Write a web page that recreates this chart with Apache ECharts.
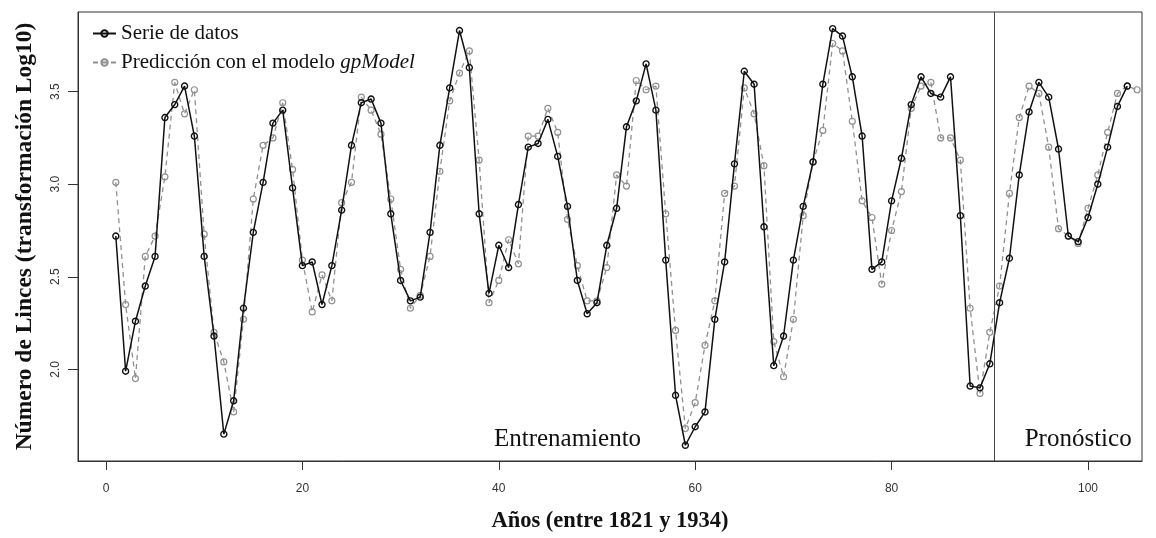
<!DOCTYPE html>
<html>
<head>
<meta charset="utf-8">
<script src="https://cdn.jsdelivr.net/npm/echarts@6/dist/echarts.min.js"></script>
<style>
  html, body { margin: 0; padding: 0; background: #fff; }
  #chart { width: 1156px; height: 538px; }
</style>
</head>
<body>
<div id="chart"></div>
<script>
// Log10 of yearly lynx trappings, 1821-1934 (observed series, t = 1..104)
const observed = [
  2.72, 1.99, 2.26, 2.45, 2.61, 3.36, 3.43, 3.53, 3.26, 2.61,
  2.18, 1.65, 1.83, 2.33, 2.74, 3.01, 3.33, 3.40, 2.98, 2.56,
  2.58, 2.35, 2.56, 2.86, 3.21, 3.44, 3.46, 3.33, 2.84, 2.48,
  2.37, 2.39, 2.74, 3.21, 3.52, 3.83, 3.63, 2.84, 2.41, 2.67,
  2.55, 2.89, 3.20, 3.22, 3.35, 3.15, 2.88, 2.48, 2.30, 2.36,
  2.67, 2.87, 3.31, 3.45, 3.65, 3.40, 2.59, 1.86, 1.59, 1.69,
  1.77, 2.27, 2.58, 3.11, 3.61, 3.54, 2.77, 2.02, 2.18, 2.59,
  2.88, 3.12, 3.54, 3.84, 3.80, 3.58, 3.26, 2.54, 2.58, 2.91,
  3.14, 3.43, 3.58, 3.49, 3.47, 3.58, 2.83, 1.91, 1.90, 2.03,
  2.36, 2.60, 3.05, 3.39, 3.55, 3.47, 3.19, 2.72, 2.69, 2.82,
  3.00, 3.20, 3.42, 3.53
];

// gpModel one-step predictions (t = 1..105)
const predicted = [
  3.01, 2.35, 1.95, 2.61, 2.72, 3.04, 3.55, 3.38, 3.51, 2.73,
  2.20, 2.04, 1.77, 2.27, 2.92, 3.21, 3.25, 3.44, 3.08, 2.59,
  2.31, 2.51, 2.37, 2.90, 3.01, 3.47, 3.40, 3.27, 2.92, 2.54,
  2.33, 2.40, 2.61, 3.07, 3.45, 3.60, 3.72, 3.13, 2.36, 2.48,
  2.70, 2.57, 3.26, 3.26, 3.41, 3.28, 2.81, 2.56, 2.37, 2.37,
  2.55, 3.05, 2.99, 3.56, 3.51, 3.53, 2.84, 2.21, 1.68, 1.82,
  2.13, 2.37, 2.95, 2.99, 3.52, 3.38, 3.10, 2.15, 1.96, 2.27,
  2.83, 3.12, 3.29, 3.76, 3.72, 3.34, 2.91, 2.82, 2.46, 2.75,
  2.96, 3.41, 3.53, 3.55, 3.25, 3.25, 3.13, 2.33, 1.87, 2.20,
  2.45, 2.95, 3.36, 3.53, 3.49, 3.20, 2.76, 2.72, 2.68, 2.87,
  3.05, 3.28, 3.49, 3.53, 3.51
];

const xTicks = [0, 20, 40, 60, 80, 100];
const yTicks = [2.0, 2.5, 3.0, 3.5];
const splitPoint = 90.5;           // end of training window
const regionLabels = [
  { text: 'Entrenamiento', x: 47.0, y: 1.62 },
  { text: 'Pronóstico', x: 99.0, y: 1.62 }
];

const serieName = 'Serie de datos';
const predName = 'Predicción con el modelo gpModel';

const obsData = observed.map((v, i) => [i + 1, v]);
const predData = predicted.map((v, i) => [i + 1, v]);

const chart = echarts.init(document.getElementById('chart'), null, { renderer: 'canvas' });

const serif = 'Liberation Serif, Times New Roman, serif';
const tickFont = { fontFamily: 'Liberation Sans Narrow, Liberation Sans, Arial, sans-serif', fontSize: 12, color: '#333' };

chart.setOption({
  animation: false,
  backgroundColor: '#fff',
  grid: {
    left: 78, top: 12, right: 14, bottom: 75,
    show: true, borderColor: '#333', borderWidth: 1
  },
  legend: {
    left: 87, top: 18, orient: 'vertical',
    itemWidth: 23, itemHeight: 8, itemGap: 8,
    data: [serieName, predName],
    formatter: n => n === predName ? 'Predicción con el modelo {i|gpModel}' : n,
    textStyle: {
      fontFamily: serif, fontSize: 21, color: '#111', lineHeight: 21,
      rich: { i: { fontStyle: 'italic', fontFamily: serif, fontSize: 21, color: '#111' } }
    }
  },
  xAxis: {
    type: 'value', min: -2.85, max: 105.5,
    name: 'Años (entre 1821 y 1934)', nameLocation: 'middle', nameGap: 49,
    nameTextStyle: { fontFamily: serif, fontSize: 22.5, fontWeight: 'bold', color: '#111' },
    axisLine: { show: true, onZero: false, lineStyle: { color: '#333', width: 1 } },
    axisTick: { show: true, length: 9, customValues: xTicks, lineStyle: { color: '#333' } },
    axisLabel: { customValues: xTicks, margin: 22, ...tickFont },
    splitLine: { show: false }
  },
  yAxis: {
    type: 'value', min: 1.505, max: 3.93,
    name: 'Número de Linces (transformación Log10)', nameLocation: 'middle', nameGap: 41,
    nameTextStyle: { fontFamily: serif, fontSize: 23.5, fontWeight: 'bold', color: '#111' },
    axisLine: { show: true, onZero: false, lineStyle: { color: '#333', width: 1 } },
    axisTick: { show: true, length: 10, customValues: yTicks, lineStyle: { color: '#333' } },
    axisLabel: { customValues: yTicks, rotate: 90, margin: 16, formatter: v => v.toFixed(1), ...tickFont },
    splitLine: { show: false }
  },
  series: [
    {
      name: predName, type: 'line', data: predData,
      symbol: 'circle', symbolSize: 6,
      itemStyle: { color: 'rgba(255,255,255,0)', borderColor: '#909090', borderWidth: 1.2 },
      lineStyle: { color: '#909090', width: 1.3, type: [5, 4] },
      z: 2
    },
    {
      name: serieName, type: 'line', data: obsData,
      symbol: 'circle', symbolSize: 6,
      itemStyle: { color: 'rgba(255,255,255,0)', borderColor: '#111', borderWidth: 1.4 },
      lineStyle: { color: '#111', width: 1.5 },
      markLine: {
        silent: true, symbol: 'none', label: { show: false },
        lineStyle: { color: '#444', width: 1, type: 'solid' },
        data: [{ xAxis: splitPoint }]
      },
      z: 3
    }
  ]
});

// Region captions placed in data coordinates
const place = () => {
  chart.setOption({
    graphic: regionLabels.map(r => {
      const p = chart.convertToPixel({ gridIndex: 0 }, [r.x, r.y]);
      return {
        type: 'text', x: p[0], y: p[1],
        style: {
          text: r.text, align: 'center', verticalAlign: 'middle',
          font: '25px "Liberation Serif", "Times New Roman", serif', fill: '#111'
        }
      };
    })
  });
};
place();
</script>
</body>
</html>
